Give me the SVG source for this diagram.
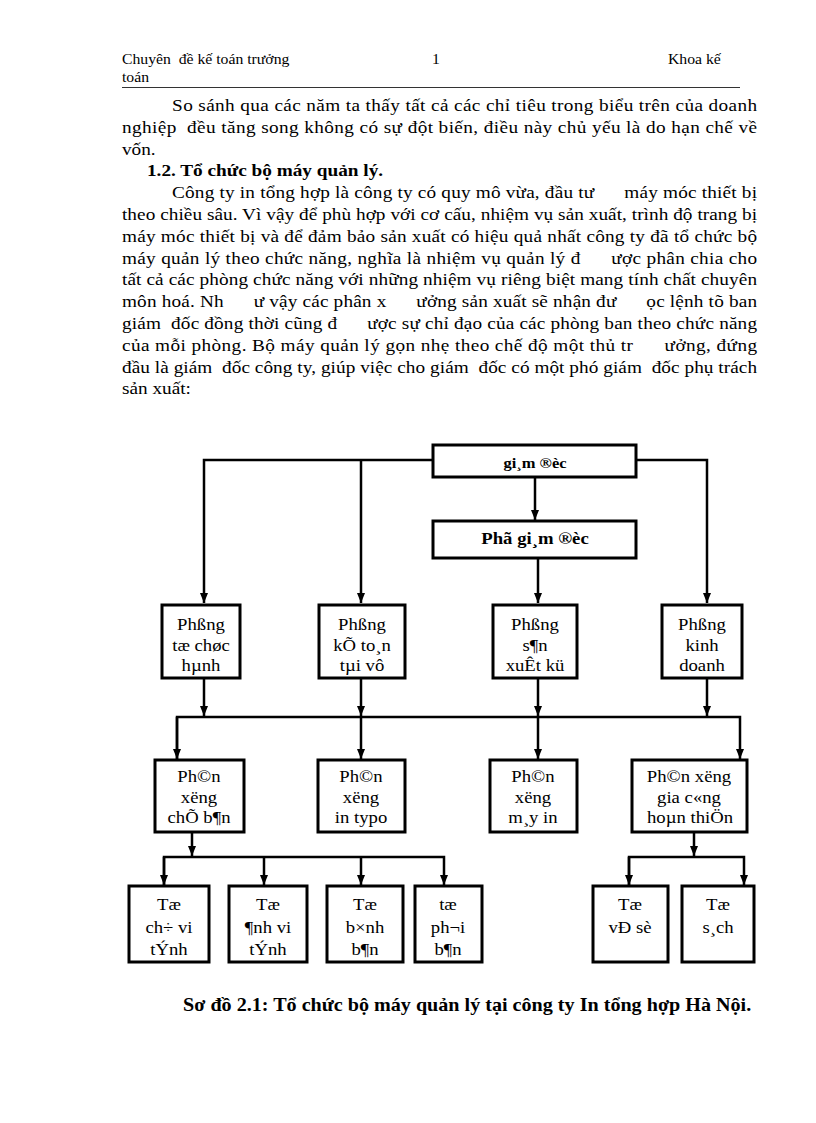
<svg xmlns="http://www.w3.org/2000/svg" width="816" height="1123" viewBox="0 0 816 1123">
<style>
text{font-family:"Liberation Serif","Times New Roman",serif;fill:#000;white-space:pre}
.hd{font-size:14.3px}
.bd{font-size:17.5px}
.bb{font-size:17.5px;font-weight:bold}
.cp{font-size:18.3px;font-weight:bold}
.bx{fill:#fff;stroke:#000;stroke-width:3}
.nt{font-size:17px;text-anchor:middle}
.tb{font-weight:bold;text-anchor:middle}
.ln{fill:none;stroke:#000;stroke-width:2.5}
</style>
<defs>
<marker id="ah" markerUnits="userSpaceOnUse" markerWidth="10" markerHeight="10" viewBox="0 0 10 10" refX="10" refY="5" orient="auto">
<path d="M0,1 L10,5 L0,9 z" fill="#000"/>
</marker>
</defs>
<rect width="816" height="1123" fill="#fff"/>
<g id="header">
<g transform="scale(1.1,1)">
<text class="hd" x="110.9" y="64" xml:space="preserve">Chuyên  đề kế toán trưởng</text>
<text class="hd" x="392.7" y="64">1</text>
<text class="hd" x="607.3" y="64">Khoa kế</text>
<text class="hd" x="110.9" y="82">toán</text>
</g>
<line x1="122" y1="87.5" x2="740" y2="87.5" stroke="#333" stroke-width="1"/>
</g>
<g id="body" transform="scale(1.1,1)">
<text class="bd" x="156.4" y="111" textLength="531.8" lengthAdjust="spacing">So sánh qua các năm ta thấy tất cả các chỉ tiêu trong biểu trên của doanh</text>
<text class="bd" x="110.9" y="133" textLength="577.3" lengthAdjust="spacing" xml:space="preserve">nghiệp  đều tăng song không có sự đột biến, điều này chủ yếu là do hạn chế về</text>
<text class="bd" x="110.9" y="155">vốn.</text>
<text class="bb" x="133.6" y="176">1.2. Tổ chức bộ máy quản lý.</text>
<text class="bd" x="156.4" y="198" textLength="531.8" lengthAdjust="spacing" xml:space="preserve">Công ty in tổng hợp là công ty có quy mô vừa, đầu tư      máy móc thiết bị</text>
<text class="bd" x="110.9" y="220" textLength="577.3" lengthAdjust="spacing">theo chiều sâu. Vì vậy để phù hợp với cơ cấu, nhiệm vụ sản xuất, trình độ trang bị</text>
<text class="bd" x="110.9" y="242" textLength="577.3" lengthAdjust="spacing">máy móc thiết bị và để đảm bảo sản xuất có hiệu quả nhất công ty đã tổ chức bộ</text>
<text class="bd" x="110.9" y="264" textLength="577.3" lengthAdjust="spacing" xml:space="preserve">máy quản lý theo chức năng, nghĩa là nhiệm vụ quản lý đ      ược phân chia cho</text>
<text class="bd" x="110.9" y="285" textLength="577.3" lengthAdjust="spacing">tất cả các phòng chức năng với những nhiệm vụ riêng biệt mang tính chất chuyên</text>
<text class="bd" x="110.9" y="307" textLength="577.3" lengthAdjust="spacing" xml:space="preserve">môn hoá. Nh      ư vậy các phân x      ưởng sản xuất sẽ nhận đư      ọc lệnh tõ ban</text>
<text class="bd" x="110.9" y="329" textLength="577.3" lengthAdjust="spacing" xml:space="preserve">giám  đốc đồng thời cũng đ      ược sự chỉ đạo của các phòng ban theo chức năng</text>
<text class="bd" x="110.9" y="351" textLength="577.3" lengthAdjust="spacing" xml:space="preserve">của mỗi phòng. Bộ máy quản lý gọn nhẹ theo chế độ một thủ tr      ưởng, đứng</text>
<text class="bd" x="110.9" y="373" textLength="577.3" lengthAdjust="spacing" xml:space="preserve">đầu là giám  đốc công ty, giúp việc cho giám  đốc có một phó giám  đốc phụ trách</text>
<text class="bd" x="110.9" y="394">sản xuất:</text>
</g>
<g id="connectors">
<polyline class="ln" points="433,460 204,460 204,603" marker-end="url(#ah)"/>
<line class="ln" x1="361" y1="460" x2="361" y2="603" marker-end="url(#ah)"/>
<polyline class="ln" points="636,460 707,460 707,603" marker-end="url(#ah)"/>
<line class="ln" x1="535" y1="477" x2="535" y2="520" marker-end="url(#ah)"/>
<line class="ln" x1="538" y1="558" x2="538" y2="603" marker-end="url(#ah)"/>
<line class="ln" x1="204" y1="678" x2="204" y2="716" marker-end="url(#ah)"/>
<line class="ln" x1="361" y1="678" x2="361" y2="716" marker-end="url(#ah)"/>
<line class="ln" x1="538" y1="678" x2="538" y2="716" marker-end="url(#ah)"/>
<line class="ln" x1="707" y1="678" x2="707" y2="716" marker-end="url(#ah)"/>
<polyline class="ln" points="177,759 177,717 740,717 740,759" marker-end="url(#ah)"/>
<line class="ln" x1="177" y1="717" x2="177" y2="759" marker-end="url(#ah)"/>
<line class="ln" x1="361" y1="717" x2="361" y2="759" marker-end="url(#ah)"/>
<line class="ln" x1="538" y1="717" x2="538" y2="759" marker-end="url(#ah)"/>
<line class="ln" x1="192" y1="832" x2="192" y2="856" marker-end="url(#ah)"/>
<polyline class="ln" points="164,885 164,857 444,857 444,885" marker-end="url(#ah)"/>
<line class="ln" x1="164" y1="857" x2="164" y2="885" marker-end="url(#ah)"/>
<line class="ln" x1="264" y1="857" x2="264" y2="885" marker-end="url(#ah)"/>
<line class="ln" x1="361" y1="857" x2="361" y2="885" marker-end="url(#ah)"/>
<line class="ln" x1="694" y1="832" x2="694" y2="856" marker-end="url(#ah)"/>
<polyline class="ln" points="629,885 629,857 744,857 744,885" marker-end="url(#ah)"/>
<line class="ln" x1="629" y1="857" x2="629" y2="885" marker-end="url(#ah)"/>
</g>
<g id="n-giamdoc"><rect class="bx" x="433" y="445" width="203" height="32"/><text class="tb" font-size="15" transform="translate(535,468) scale(1.1,1)">gi¸m ®èc</text></g>
<g id="n-phogiamdoc"><rect class="bx" x="433" y="521" width="203" height="37"/><text class="tb" font-size="17" transform="translate(535,544) scale(1.1,1)">Phã gi¸m ®èc</text></g>
<g id="n-tochuc"><rect class="bx" x="162" y="605" width="78" height="73"/><text class="nt" transform="translate(201,630) scale(1.1,1)">Phßng</text><text class="nt" transform="translate(201,651) scale(1.1,1)">tæ chøc</text><text class="nt" transform="translate(201,671) scale(1.1,1)">hµnh</text></g>
<g id="n-ketoan"><rect class="bx" x="319" y="605" width="86" height="73"/><text class="nt" transform="translate(362,630) scale(1.1,1)">Phßng</text><text class="nt" transform="translate(362,651) scale(1.1,1)">kÕ to¸n</text><text class="nt" transform="translate(362,671) scale(1.1,1)">tµi vô</text></g>
<g id="n-sanxuat"><rect class="bx" x="493" y="605" width="84" height="73"/><text class="nt" transform="translate(535,630) scale(1.1,1)">Phßng</text><text class="nt" transform="translate(535,651) scale(1.1,1)">s¶n</text><text class="nt" transform="translate(535,671) scale(1.1,1)">xuÊt kü</text></g>
<g id="n-kinhdoanh"><rect class="bx" x="662" y="605" width="80" height="73"/><text class="nt" transform="translate(702,630) scale(1.1,1)">Phßng</text><text class="nt" transform="translate(702,651) scale(1.1,1)">kinh</text><text class="nt" transform="translate(702,671) scale(1.1,1)">doanh</text></g>
<g id="n-chebang"><rect class="bx" x="155" y="760" width="89" height="72"/><text class="nt" transform="translate(199,782) scale(1.1,1)">Ph©n</text><text class="nt" transform="translate(199,803) scale(1.1,1)">xëng</text><text class="nt" transform="translate(199,823) scale(1.1,1)">chÕ b¶n</text></g>
<g id="n-typo"><rect class="bx" x="318" y="760" width="87" height="72"/><text class="nt" transform="translate(361,782) scale(1.1,1)">Ph©n</text><text class="nt" transform="translate(361,803) scale(1.1,1)">xëng</text><text class="nt" transform="translate(361,823) scale(1.1,1)">in typo</text></g>
<g id="n-mayin"><rect class="bx" x="490" y="760" width="87" height="72"/><text class="nt" transform="translate(533,782) scale(1.1,1)">Ph©n</text><text class="nt" transform="translate(533,803) scale(1.1,1)">xëng</text><text class="nt" transform="translate(533,823) scale(1.1,1)">m¸y in</text></g>
<g id="n-giacong"><rect class="bx" x="632" y="760" width="115" height="72"/><text class="nt" transform="translate(689,782) scale(1.1,1)">Ph©n xëng</text><text class="nt" transform="translate(689,803) scale(1.1,1)">gia c«ng</text><text class="nt" transform="translate(690,823) scale(1.1,1)">hoµn thiÖn</text></g>
<g id="n-chuvitinh"><rect class="bx" x="129" y="886" width="80" height="76"/><text class="nt" transform="translate(169,910) scale(1.1,1)">Tæ</text><text class="nt" transform="translate(169,933) scale(1.1,1)">ch÷ vi</text><text class="nt" transform="translate(169,955) scale(1.1,1)">tÝnh</text></g>
<g id="n-anhvitinh"><rect class="bx" x="229" y="886" width="78" height="76"/><text class="nt" transform="translate(268,910) scale(1.1,1)">Tæ</text><text class="nt" transform="translate(268,933) scale(1.1,1)">¶nh vi</text><text class="nt" transform="translate(268,955) scale(1.1,1)">tÝnh</text></g>
<g id="n-binhban"><rect class="bx" x="327" y="886" width="76" height="76"/><text class="nt" transform="translate(365,910) scale(1.1,1)">Tæ</text><text class="nt" transform="translate(365,933) scale(1.1,1)">b×nh</text><text class="nt" transform="translate(365,955) scale(1.1,1)">b¶n</text></g>
<g id="n-phoiban"><rect class="bx" x="415" y="886" width="67" height="76"/><text class="nt" transform="translate(448,910) scale(1.1,1)">tæ</text><text class="nt" transform="translate(448,933) scale(1.1,1)">ph¬i</text><text class="nt" transform="translate(448,955) scale(1.1,1)">b¶n</text></g>
<g id="n-veso"><rect class="bx" x="593" y="886" width="75" height="76"/><text class="nt" transform="translate(630,910) scale(1.1,1)">Tæ</text><text class="nt" transform="translate(630,933) scale(1.1,1)">vÐ sè</text></g>
<g id="n-sach"><rect class="bx" x="682" y="886" width="72" height="76"/><text class="nt" transform="translate(718,910) scale(1.1,1)">Tæ</text><text class="nt" transform="translate(718,933) scale(1.1,1)">s¸ch</text></g>
<g id="caption" transform="scale(1.1,1)"><text class="cp" x="166.4" y="1011">Sơ đồ 2.1: Tổ chức bộ máy quản lý tại công ty In tổng hợp Hà Nội.</text></g>
</svg>
